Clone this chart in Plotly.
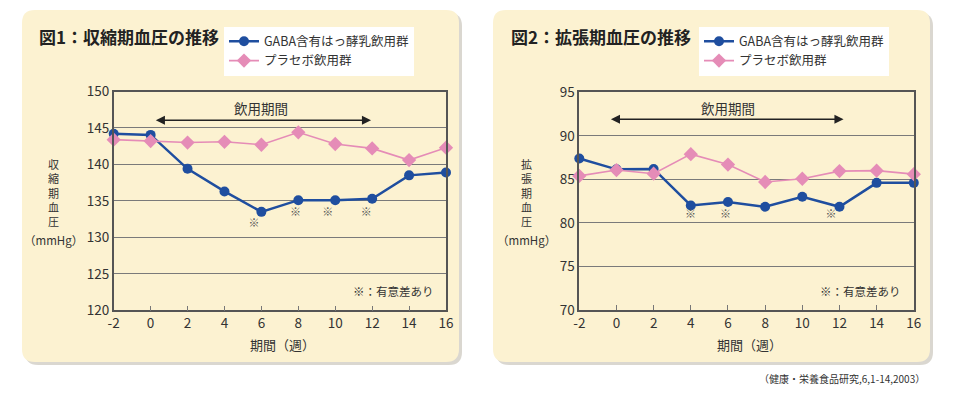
import plotly.graph_objects as go

W, H = 966, 399

# ---------------- data ----------------
weeks = [-2, 0, 2, 4, 6, 8, 10, 12, 14, 16]
sys_gaba = [144.2, 144.05, 139.4, 136.3, 133.5, 135.1, 135.1, 135.3, 138.5, 138.9]
sys_placebo = [143.4, 143.2, 143.0, 143.1, 142.7, 144.4, 142.8, 142.2, 140.6, 142.3]
dia_gaba = [87.4, 86.15, 86.2, 82.0, 82.4, 81.85, 83.0, 81.85, 84.6, 84.6]
dia_placebo = [85.4, 86.07, 85.65, 87.9, 86.7, 84.7, 85.07, 85.95, 86.0, 85.6]

sys_sig_x = [5.6, 7.85, 9.6, 11.68]
sys_sig_y = [131.85, 133.3, 133.3, 133.3]
dia_sig_x = [3.98, 5.87, 11.55]
dia_sig_y = [80.9, 80.9, 80.9]

x_ticks = [-2, 0, 2, 4, 6, 8, 10, 12, 14, 16]
sys_ticks = [120, 125, 130, 135, 140, 145, 150]
dia_ticks = [70, 75, 80, 85, 90, 95]

name_gaba = "GABA含有はっ酵乳飲用群"
name_placebo = "プラセボ飲用群"

BLUE = "#1f4e9f"
PINK = "#e58cb7"
CREAM = "#fcf2d1"
TXT = "#333333"
JP = "Noto Sans CJK JP"


def px(x):
    return x / W


def py(y):
    return 1 - y / H


def rrect(x0, y0, x1, y1, r):
    X0, X1 = px(x0), px(x1)
    Y0, Y1 = py(y0), py(y1)
    rx, ry = r / W, r / H
    return (f"M {X0+rx},{Y0} L {X1-rx},{Y0} Q {X1},{Y0} {X1},{Y0-ry} "
            f"L {X1},{Y1+ry} Q {X1},{Y1} {X1-rx},{Y1} L {X0+rx},{Y1} "
            f"Q {X0},{Y1} {X0},{Y1+ry} L {X0},{Y0-ry} Q {X0},{Y0} {X0+rx},{Y0} Z")


fig = go.Figure()

panels = [
    dict(x0=22, x1=459, title="図1：収縮期血圧の推移", tx=37,
         xa="x", ya="y", leg="legend", gaba=sys_gaba, plac=sys_placebo,
         ylab="収<br>縮<br>期<br>血<br>圧", ylx=53,
         sigx=sys_sig_x, sigy=sys_sig_y, arrow=(0.2, 11.94, 146.05),
         drink=(6.0, 147.8), note_x=436, xt_c=282),
    dict(x0=493, x1=930, title="図2：拡張期血圧の推移", tx=509,
         xa="x2", ya="y2", leg="legend2", gaba=dia_gaba, plac=dia_placebo,
         ylab="拡<br>張<br>期<br>血<br>圧", ylx=526,
         sigx=dia_sig_x, sigy=dia_sig_y, arrow=(-0.38, 12.22, 91.9),
         drink=(6.0, 93.2), note_x=903, xt_c=749),
]

shapes = []
annotations = []

for i, p in enumerate(panels):
    # shadow + panel
    shapes.append(dict(type="path", xref="paper", yref="paper",
                       path=rrect(p["x0"] + 3, 13, p["x1"] + 3, 365, 13),
                       fillcolor="rgba(150,140,120,0.35)", line=dict(width=0), layer="below"))
    shapes.append(dict(type="path", xref="paper", yref="paper",
                       path=rrect(p["x0"], 10, p["x1"], 362, 13),
                       fillcolor=CREAM, line=dict(width=0), layer="below"))

    fig.add_trace(go.Scatter(
        x=weeks, y=p["gaba"], mode="lines+markers", name=name_gaba,
        line=dict(color=BLUE, width=2.5), marker=dict(symbol="circle", size=10, color=BLUE),
        xaxis=p["xa"], yaxis=p["ya"], legend=p["leg"], cliponaxis=False))
    fig.add_trace(go.Scatter(
        x=weeks, y=p["plac"], mode="lines+markers", name=name_placebo,
        line=dict(color=PINK, width=1.6), marker=dict(symbol="diamond", size=11, color=PINK),
        xaxis=p["xa"], yaxis=p["ya"], legend=p["leg"], cliponaxis=False))
    fig.add_trace(go.Scatter(
        x=p["sigx"], y=p["sigy"], mode="text", text=["※"] * len(p["sigx"]),
        textfont=dict(family=JP, size=11, color="#555555"), showlegend=False,
        hoverinfo="skip", xaxis=p["xa"], yaxis=p["ya"]))

    # title
    annotations.append(dict(xref="paper", yref="paper", x=px(p["tx"]), y=py(36),
                            xanchor="left", yanchor="middle", showarrow=False,
                            text="<b>" + p["title"] + "</b>",
                            font=dict(family=JP, size=17, color="#222222")))
    # vertical y-axis label
    annotations.append(dict(xref="paper", yref="paper", x=px(p["ylx"]), y=py(192),
                            xanchor="center", yanchor="middle", showarrow=False,
                            text=p["ylab"], font=dict(family=JP, size=11, color=TXT)))
    annotations.append(dict(xref="paper", yref="paper", x=px(p["ylx"]), y=py(240),
                            xanchor="center", yanchor="middle", showarrow=False,
                            text="（mmHg）", font=dict(family=JP, size=11.5, color=TXT)))
    # x title
    annotations.append(dict(xref="paper", yref="paper", x=px(p["xt_c"]), y=py(344),
                            xanchor="center", yanchor="middle", showarrow=False,
                            text="期間（週）", font=dict(family=JP, size=13, color=TXT)))
    # drinking period arrow
    a0, a1, ay = p["arrow"]
    annotations.append(dict(xref=p["xa"], yref=p["ya"], axref=p["xa"], ayref=p["ya"],
                            x=a1, y=ay, ax=a0, ay=ay, text="", showarrow=True,
                            arrowside="end+start", arrowhead=2, arrowsize=1.3,
                            arrowwidth=1.4, arrowcolor="#222222"))
    annotations.append(dict(xref=p["xa"], yref=p["ya"], x=p["drink"][0], y=p["drink"][1],
                            xanchor="center", yanchor="middle", showarrow=False,
                            text="飲用期間", font=dict(family=JP, size=13.5, color=TXT)))
    # note
    annotations.append(dict(xref="paper", yref="paper", x=px(p["note_x"]), y=py(290.5),
                            xanchor="right", yanchor="middle", showarrow=False,
                            text="※：有意差あり", font=dict(family=JP, size=11.5, color=TXT)))

annotations.append(dict(xref="paper", yref="paper", x=px(927), y=py(378),
                        xanchor="right", yanchor="middle", showarrow=False,
                        text="（健康・栄養食品研究,6,1-14,2003）",
                        font=dict(family=JP, size=10, color=TXT)))

axis_common = dict(showgrid=True, gridcolor="#7a7a7a", gridwidth=1, showline=True,
                   linecolor="#555555", linewidth=1.5, mirror=True, zeroline=False,
                   tickfont=dict(family=JP, size=13.5, color=TXT), fixedrange=True,
                   automargin=False)

xaxis_common = dict(axis_common, showgrid=False, range=[-2, 16], tickvals=x_ticks,
                    ticktext=[str(v) for v in x_ticks], ticks="inside", ticklen=5,
                    tickcolor="#777777", tickwidth=1)

fig.update_layout(
    width=W, height=H, margin=dict(l=0, r=0, t=0, b=0, pad=0, autoexpand=False),
    paper_bgcolor="white", plot_bgcolor="white",
    showlegend=True,
    xaxis=dict(xaxis_common, domain=[px(113.7), px(446)], anchor="y"),
    yaxis=dict(axis_common, domain=[py(310.3), py(91.5)], range=[120, 150],
               tickvals=sys_ticks, ticks="", anchor="x"),
    xaxis2=dict(xaxis_common, domain=[px(579.3), px(913.8)], anchor="y2"),
    yaxis2=dict(axis_common, domain=[py(310), py(92.3)], range=[70, 95],
                tickvals=dia_ticks, ticks="", anchor="x2"),
    legend=dict(x=px(224), y=py(26.7), xanchor="left", yanchor="top", bgcolor="white",
                font=dict(family=JP, size=12.5, color=TXT), itemwidth=30,
                tracegroupgap=0),
    legend2=dict(x=px(699), y=py(26.7), xanchor="left", yanchor="top", bgcolor="white",
                 font=dict(family=JP, size=12.5, color=TXT), itemwidth=30,
                 tracegroupgap=0),
    shapes=shapes, annotations=annotations,
)

fig.write_html("out.html", config={"displayModeBar": False},
               post_script="document.body.style.margin='0px';document.body.style.overflow='hidden';")
